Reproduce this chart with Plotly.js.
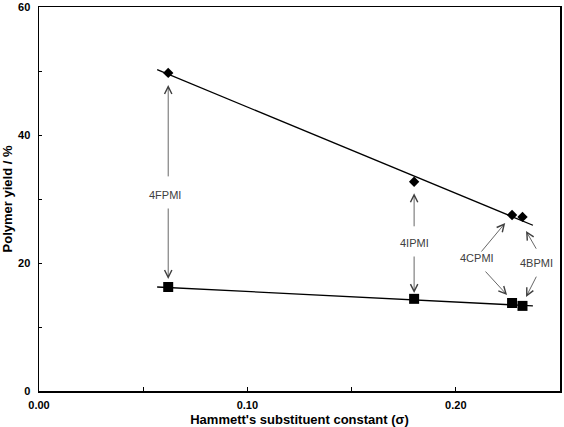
<!DOCTYPE html>
<html>
<head>
<meta charset="utf-8">
<script src="https://cdn.plot.ly/plotly-3.0.1.min.js"></script>
<style>html,body{margin:0;padding:0;background:#fff;}#chart{width:564px;height:427px;}</style>
</head>
<body>
<div id="chart"></div>
<script>
// Data
const compounds = ["4FPMI", "4IPMI", "4CPMI", "4BPMI"];
const sigma = [0.062, 0.180, 0.227, 0.232];
const yieldUpper = [49.7, 32.7, 27.5, 27.2];
const yieldLower = [16.25, 14.4, 13.75, 13.3];
const trendX = [0.0567, 0.237];
const trendUpper = [50.2, 25.9];
const trendLower = [16.25, 13.3];
const xTickVals = [0, 0.05, 0.10, 0.15, 0.20, 0.25];
const xTickText = ["0.00", "", "0.10", "", "0.20", ""];
const yTickVals = [0, 10, 20, 30, 40, 50, 60];
const yTickText = ["0", "", "20", "", "40", "", "60"];

// Label positions and arrow endpoints (data coordinates)
const labelX = [0.0606, 0.180, 0.2103, 0.2385];
const labelY = [30.6, 23.1, 20.8, 20.0];
const arrows = [
  // [tailX, tailY, headX, headY]
  [0.062, 33.3, 0.062, 47.8],
  [0.062, 28.75, 0.062, 17.5],
  [0.180, 25.5, 0.180, 30.9],
  [0.180, 21.25, 0.180, 15.3],
  [0.2117, 21.56, 0.2237, 26.25],
  [0.2136, 18.9, 0.2246, 15.0],
  [0.239, 22.0, 0.2337, 25.0],
  [0.239, 18.1, 0.2337, 14.7]
];

const traces = [
  {x: trendX, y: trendUpper, mode: "lines", line: {color: "#000", width: 1.3}, hoverinfo: "skip"},
  {x: trendX, y: trendLower, mode: "lines", line: {color: "#000", width: 1.3}, hoverinfo: "skip"},
  {x: sigma, y: yieldUpper, mode: "markers", marker: {symbol: "diamond", size: 8, color: "#000"}},
  {x: sigma, y: yieldLower, mode: "markers", marker: {symbol: "square", size: 10, color: "#000"}}
];

const annotations = [];
compounds.forEach((c, i) => {
  annotations.push({x: labelX[i], y: labelY[i], xref: "x", yref: "y", text: c, showarrow: false,
    font: {family: "Arial, Liberation Sans, sans-serif", size: 11, color: "#404040"}});
});
arrows.forEach(a => {
  annotations.push({x: a[2], y: a[3], ax: a[0], ay: a[1], xref: "x", yref: "y", axref: "x", ayref: "y",
    text: "", showarrow: true, arrowhead: 5, arrowsize: 1.8, arrowwidth: 0.8, arrowcolor: "#404040", standoff: 0});
});

const font = {family: "Arial, Liberation Sans, sans-serif", color: "#000"};
const layout = {
  width: 564, height: 427,
  margin: {l: 38.5, r: 3.5, t: 7, b: 36},
  paper_bgcolor: "#fff", plot_bgcolor: "#fff",
  showlegend: false,
  font: font,
  xaxis: {
    range: [0, 0.25], tickvals: xTickVals, ticktext: xTickText,
    ticks: "inside", ticklen: 4, tickcolor: "#000", tickwidth: 1,
    showline: true, linecolor: "#000", linewidth: 1.5, mirror: true,
    showgrid: false, zeroline: false, ticklabelstandoff: 3,
    tickfont: {family: font.family, size: 11, color: "#000", weight: "bold"},
    title: {text: "Hammett's substituent constant (σ)", font: {family: font.family, size: 13, color: "#000", weight: "bold"}, standoff: 12},
    automargin: false
  },
  yaxis: {
    range: [0, 60], tickvals: yTickVals, ticktext: yTickText,
    ticks: "inside", ticklen: 3, tickcolor: "#000", tickwidth: 1,
    showline: true, linecolor: "#000", linewidth: 1.5, mirror: true,
    showgrid: false, zeroline: false, ticklabelstandoff: 5,
    tickfont: {family: font.family, size: 11, color: "#000", weight: "bold"},
    title: {text: "Polymer yield / %", font: {family: font.family, size: 13, color: "#000", weight: "bold"}, standoff: 4},
    automargin: false
  },
  annotations: annotations
};

Plotly.newPlot("chart", traces, layout, {staticPlot: true, displayModeBar: false});
</script>
</body>
</html>
